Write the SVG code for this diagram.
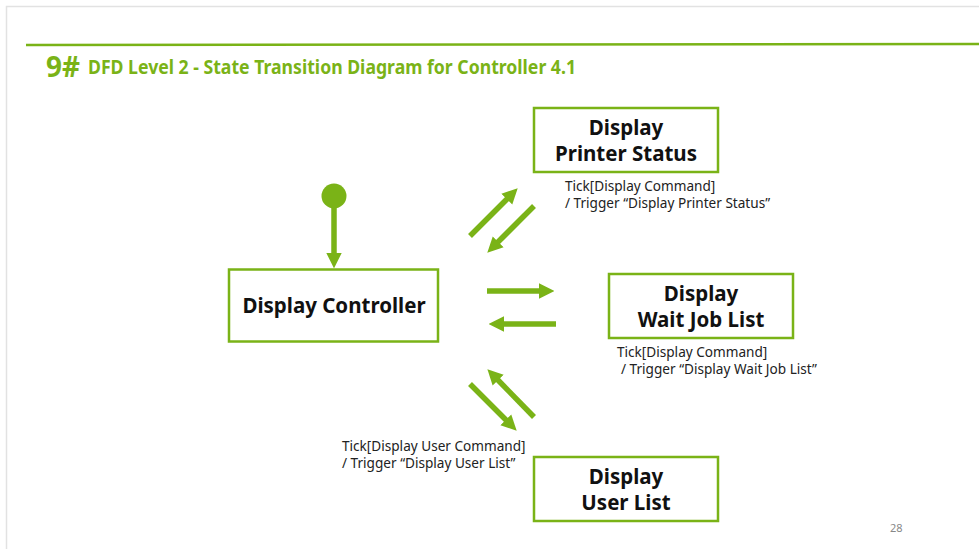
<svg xmlns="http://www.w3.org/2000/svg" width="979" height="549" viewBox="0 0 979 549">
<defs>
<style>
.box{fill:#fff;stroke:#7ab317;stroke-width:2.5}
.bt{font-family:"Noto Sans","Open Sans",sans-serif;font-weight:bold;font-size:20.5px;fill:#111;text-anchor:middle}
.lb{font-family:"Noto Sans","Open Sans",sans-serif;font-size:13.6px;fill:#222}
.cn{stroke:#7ab317;stroke-width:5.5;fill:none;marker-end:url(#ah)}
</style>
<marker id="ah" viewBox="0 0 10 10" refX="2" refY="5" markerWidth="2.8" markerHeight="3" orient="auto" markerUnits="strokeWidth">
<path d="M0,0 L10,5 L0,10 z" fill="#7ab317"/>
</marker>
</defs>
<rect x="0" y="0" width="979" height="549" fill="#fff"/>
<path d="M6.5,549 V6.5 H979" fill="none" stroke="#e2e2e2" stroke-width="1.5"/>
<line x1="26" y1="45" x2="979" y2="44" stroke="#7ab317" stroke-width="2.5"/>
<text x="46" y="77" font-family="'Noto Sans','Open Sans',sans-serif" font-weight="bold" font-size="29" fill="#7ab317" textLength="34" lengthAdjust="spacingAndGlyphs">9#</text>
<text x="88" y="74" font-family="'Noto Sans','Open Sans',sans-serif" font-weight="bold" font-size="20" fill="#7ab317" textLength="488" lengthAdjust="spacingAndGlyphs">DFD Level 2 - State Transition Diagram for Controller 4.1</text>
<g id="connectors">
<circle cx="334" cy="196" r="12.5" fill="#7ab317"/>
<line class="cn" x1="334" y1="207" x2="334" y2="256"/>
<line class="cn" x1="470" y1="236" x2="509" y2="197"/>
<line class="cn" x1="534" y1="206" x2="496" y2="244"/>
<line class="cn" x1="487" y1="291" x2="542" y2="291"/>
<line class="cn" x1="556" y1="324" x2="501" y2="324"/>
<line class="cn" x1="534" y1="417" x2="496" y2="378"/>
<line class="cn" x1="470" y1="384" x2="508" y2="422"/>
</g>
<g id="n-controller">
<rect class="box" x="229" y="269.5" width="209" height="72"/>
<text class="bt" x="334" y="313">Display Controller</text>
</g>
<g id="n-printer">
<rect class="box" x="534" y="108" width="184" height="64"/>
<text class="bt" x="626" y="135">Display</text>
<text class="bt" x="626" y="161">Printer Status</text>
</g>
<g id="n-wait">
<rect class="box" x="609" y="274" width="184" height="64"/>
<text class="bt" x="701" y="301">Display</text>
<text class="bt" x="701" y="327">Wait Job List</text>
</g>
<g id="n-user">
<rect class="box" x="534" y="457" width="184" height="64"/>
<text class="bt" x="626" y="484">Display</text>
<text class="bt" x="626" y="510">User List</text>
</g>
<g id="labels">
<text class="lb" x="565" y="191">Tick[Display Command]</text>
<text class="lb" x="565" y="208">/ Trigger “Display Printer Status”</text>
<text class="lb" x="617" y="357">Tick[Display Command]</text>
<text class="lb" x="621" y="374">/ Trigger “Display Wait Job List”</text>
<text class="lb" x="342" y="451">Tick[Display User Command]</text>
<text class="lb" x="342" y="468">/ Trigger “Display User List”</text>
<text x="890" y="532" font-family="'Noto Sans','Open Sans',sans-serif" font-size="11" fill="#888">28</text>
</g>
</svg>
